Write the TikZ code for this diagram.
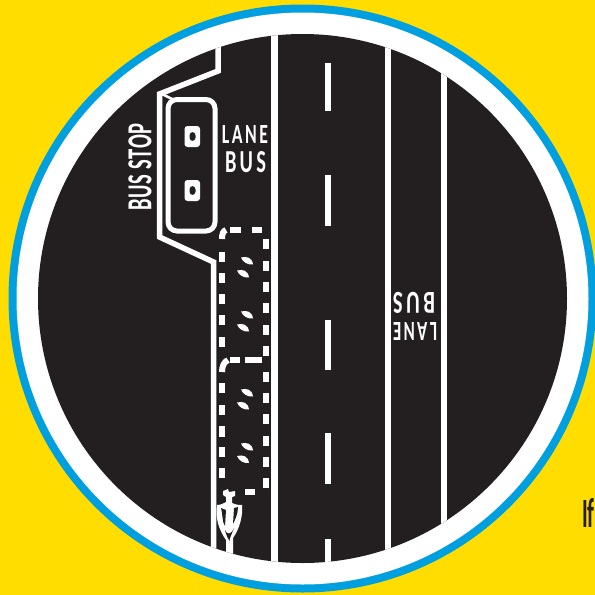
\documentclass[tikz,border=0pt]{standalone}
\usepackage{fontspec}
\setmainfont{Carlito}
\definecolor{roadblack}{HTML}{231F20}
\definecolor{signyellow}{HTML}{FFDD00}
\definecolor{ringblue}{HTML}{009FDF}
\tikzset{
  lane/.style={draw=white,line width=#1},
  lane/.default=6.5pt,
  dashbar/.style={draw=white,line width=6.5pt},
  boxdash/.style={draw=white,line width=6pt},
  curb/.style={draw=white,line width=5.5pt,miter limit=10},
  label/.style={text=white,inner sep=0pt,font=\bfseries}
}
\newcommand{\wheelat}[2]{\fill[white,shift={(#1,#2)}] (0,0) .. controls (6,-1.5) and (11,0) .. (12,7) .. controls (7,7.5) and (2,5) .. (0,0) -- cycle;}
\begin{document}
\begin{tikzpicture}[x=1pt,y=-1pt]
\useasboundingbox (0,0) rectangle (595,595);
\fill[signyellow] (0,0) rectangle (595,595);
\begin{scope}
\clip (0,0) rectangle (595,595);
\fill[ringblue] (302.5,298.5) circle[radius=294];
\fill[white] (302.5,298.5) circle[radius=286];
\fill[roadblack] (302.5,298.5) circle[radius=264.5];
\end{scope}
\begin{scope}
\clip (302.5,298.5) circle[radius=264.5];
% lanes
\draw[lane] (274.5,20) -- (274.5,580);
\draw[lane] (388,20) -- (388,580);
\draw[lane=6pt] (444,20) -- (444,580);
% centre dashes
\foreach \a/\b in {63/111,175/226,320/370,433/484,539/575}
  \draw[dashbar] (328,\a) -- (328,\b);
% curb
\draw[curb] (218,20) -- (218,71) -- (159.5,94) -- (159.5,237) -- (213.5,262) -- (213.5,580);
\draw[white,line width=2.5pt] (162,94) -- (172,99);
% bus stop box
\draw[white,line width=5pt,rounded corners=9pt] (168,99.5) rectangle (215,231);
% box 1 dashes
\foreach \a/\b in {252/262,273/283,294/304,315/325,337/347}
  \draw[boxdash] (222,\a) -- (222,\b);
\foreach \a/\b in {239/249,261/271,282/292,303/313,325/335,346/356}
  \draw[boxdash] (266,\a) -- (266,\b);
\foreach \a/\b in {230/241,252/262}
  \draw[boxdash] (\a,230) -- (\b,230);
\foreach \a/\b in {230/240,245/262}
  \draw[boxdash] (\a,360) -- (\b,360);
\draw[boxdash] (222,239) .. controls (222,234) and (223,231) .. (226,230);
% box 2 dashes
\foreach \a/\b in {383/393,405/415,426/437,447/457,468/478}
  \draw[boxdash] (222,\a) -- (222,\b);
\foreach \a/\b in {372/382,393/403,414/424,436/446,457/467,478/488}
  \draw[boxdash] (266,\a) -- (266,\b);
\draw[boxdash] (245,492) -- (255,492);
\draw[boxdash] (222,372) .. controls (222,366) and (224,362) .. (228,360);
% wheel marks
\foreach \y in {257.5,311.5,389.5,443.5} { \wheelat{241}{\y} }
\foreach \y in {270.5,324.5,402.5,456} { \wheelat{237}{\y} }
% bicycle
\fill[white] (223,491) -- (228,489) -- (229,492) -- (235,491) -- (235,496) -- (232,497) -- (232,503)
  .. controls (236,505) and (240,505) .. (242,505)
  .. controls (243,515) and (240,528) .. (233,538)
  -- (233,570) -- (226,570) -- (226,540)
  .. controls (219,530) and (215,518) .. (217,505)
  .. controls (221,505) and (224,503) .. (226,502)
  -- (226,497) -- (223,495) -- cycle;
\fill[roadblack] (221,508) .. controls (223,516) and (222,522) .. (225,526) -- (226,510) -- cycle;
\fill[roadblack] (234,508) -- (238,507) .. controls (238,514) and (235,520) .. (233,524) -- cycle;
\fill[roadblack] (225,530) .. controls (227,535) and (231,535) .. (234,528) .. controls (232,533) and (229,540) .. (229.5,541) .. controls (227,537) and (226,534) .. (225,530) -- cycle;
\end{scope}
% hollow markers
\fill[white,even odd rule,rounded corners=3pt] (184.5,126) rectangle (200,147) (189.5,132) rectangle (195.5,141);
\fill[white,even odd rule,rounded corners=3pt] (184.5,180) rectangle (200,201) (189.5,186) rectangle (195.5,195);
% labels
\node[label,rotate=90] (stop) at (140,167) {\resizebox{87pt}{23pt}{\addfontfeature{LetterSpace=3}BUS STOP}};
\node[label] (lanea) at (245,134) {\resizebox{46pt}{18pt}{\addfontfeature{LetterSpace=14}LANE}};
\node[label] (busa) at (245.5,162.5) {\resizebox{41pt}{21pt}{\addfontfeature{LetterSpace=16}BUS}};
\node[label,rotate=180] (laneb) at (415,331) {\resizebox{44pt}{18pt}{\addfontfeature{LetterSpace=14}LANE}};
\node[label,rotate=180] (busb) at (414,302.5) {\resizebox{42pt}{21pt}{\addfontfeature{LetterSpace=16}BUS}};
\node[text=roadblack,inner sep=0pt,anchor=west,font=\bfseries] (iftext) at (582,513) {\resizebox{12.5pt}{29pt}{If}};
\end{tikzpicture}
\end{document}
